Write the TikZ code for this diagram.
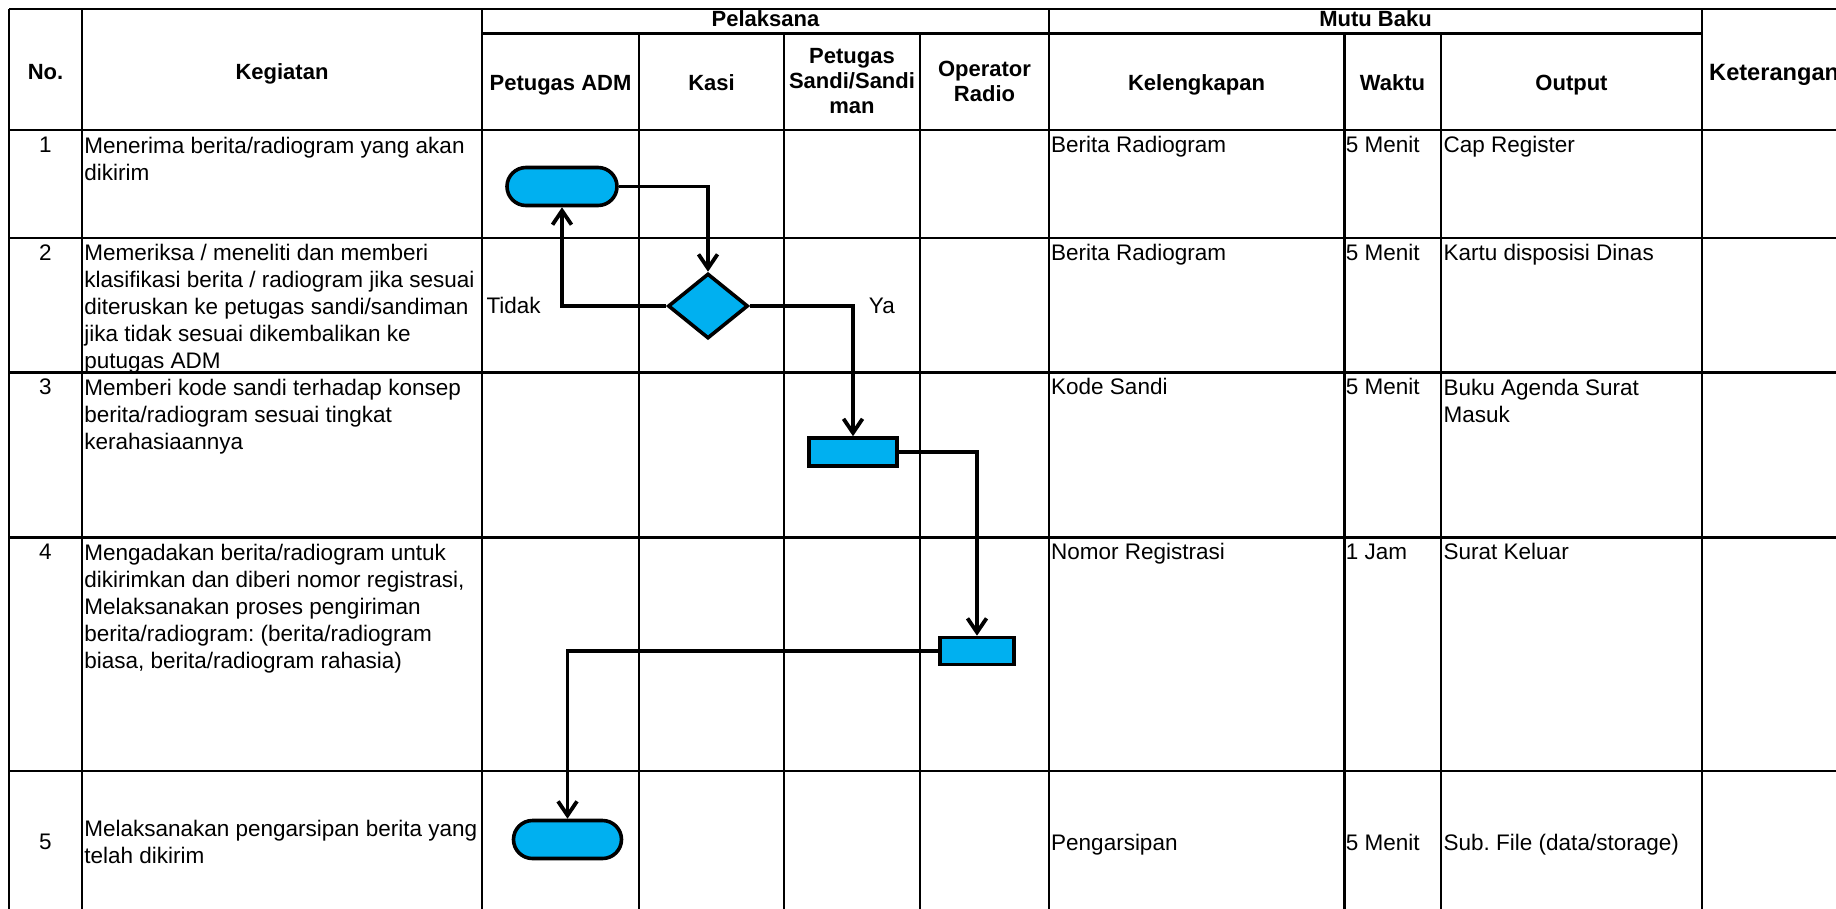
\documentclass[tikz,border=0pt]{standalone}
\usepackage{fontspec}
\setmainfont{Liberation Sans}
\usetikzlibrary{arrows.meta,shapes.geometric}
\definecolor{flowfill}{HTML}{00B0F0}
\frenchspacing
\begin{document}
\frenchspacing
\begin{tikzpicture}[x=1pt,y=-1pt,
  gridline/.style={line width=2.4pt},
  thinline/.style={line width=1.8pt},
  bodytext/.style={inner sep=0pt, font=\fontsize{22.5}{27}\selectfont\frenchspacing, align=left},
  headtext/.style={inner sep=0pt, font=\fontsize{22}{25}\selectfont\bfseries, align=center},
  termbox/.style={draw, line width=3.6pt, fill=flowfill, rounded corners=19pt, inner sep=0pt},
  procbox/.style={draw, line width=3.6pt, fill=flowfill, inner sep=0pt},
  decbox/.style={draw, diamond, line width=3.6pt, fill=flowfill, inner sep=0pt, minimum width=80pt, minimum height=65pt},
  flowline/.style={line width=3.8pt, -{Straight Barb[length=14pt,width=19pt,line width=3.8pt]}}
]
\useasboundingbox (0,0) rectangle (1836,908);
\fill[white] (0,0) rectangle (1836,908);

% ---------- table grid ----------
\draw[gridline] (9,9) -- (1845,9);
\draw[gridline] (482,33.5) -- (1702,33.5);
\draw[gridline] (9,130) -- (1845,130);
\draw[gridline] (9,237.7) -- (1845,237.7);
\draw[gridline] (9,372.3) -- (1845,372.3);
\draw[gridline] (9,537.3) -- (1845,537.3);
\draw[gridline] (9,771) -- (1845,771);
\draw[gridline] (9,912) -- (1845,912);
\draw[gridline] (9,9) -- (9,920);
\draw[gridline] (82,9) -- (82,920);
\draw[gridline] (482,9) -- (482,920);
\draw[thinline] (639,33.5) -- (639,920);
\draw[thinline] (784,33.5) -- (784,920);
\draw[thinline] (920,33.5) -- (920,920);
\draw[gridline] (1049,9) -- (1049,920);
\draw[gridline] (1344.5,33.5) -- (1344.5,920);
\draw[gridline] (1441,33.5) -- (1441,920);
\draw[gridline] (1702,9) -- (1702,920);

% ---------- header ----------
\node[headtext, anchor=base] (hno) at (45.5,79) {No.};
\node[headtext, anchor=base] (hkeg) at (282,79) {Kegiatan};
\node[headtext, anchor=base] (hpel) at (765.5,26.7) {Pelaksana};
\node[headtext, anchor=base] (hmutu) at (1375.5,26.7) {Mutu Baku};
\node[headtext, anchor=base] (hadm) at (560.5,90.5) {Petugas ADM};
\node[headtext, anchor=base] (hkasi) at (711.5,90.5) {Kasi};
\node[headtext, anchor=north] (hsandi) at (852,48.5) {Petugas\\Sandi/Sandi\\man};
\node[headtext, anchor=north] (hop) at (984.5,61) {Operator\\Radio};
\node[headtext, anchor=base] (hkel) at (1196.5,90.5) {Kelengkapan};
\node[headtext, anchor=base] (hwak) at (1392.5,90.5) {Waktu};
\node[headtext, anchor=base] (hout) at (1571.5,90.5) {Output};
\node[headtext, anchor=base west, font=\fontsize{23.6}{25}\selectfont\bfseries] (hket) at (1709,80) {Keterangan};

% ---------- row 1 ----------
\node[bodytext, anchor=base] (n1) at (45.5,152.5) {1};
\node[bodytext, anchor=north west] (k1) at (84.2,136.5) {Menerima berita/radiogram yang akan\\dikirim};
\node[bodytext, anchor=base west] (l1) at (1051,152.5) {Berita Radiogram};
\node[bodytext, anchor=base west] (w1) at (1345.7,152.5) {5 Menit};
\node[bodytext, anchor=base west] (o1) at (1443.5,152.5) {Cap Register};

% ---------- row 2 ----------
\node[bodytext, anchor=base] (n2) at (45.5,260.2) {2};
\node[bodytext, anchor=north west] (k2) at (84.2,244.2) {Memeriksa / meneliti dan memberi\\klasifikasi berita / radiogram jika sesuai\\diteruskan ke petugas sandi/sandiman\\jika tidak sesuai dikembalikan ke\\putugas ADM};
\node[bodytext, anchor=base west] (l2) at (1051,260.2) {Berita Radiogram};
\node[bodytext, anchor=base west] (w2) at (1345.7,260.2) {5 Menit};
\node[bodytext, anchor=base west] (o2) at (1443.5,260.2) {Kartu disposisi Dinas};

% ---------- row 3 ----------
\node[bodytext, anchor=base] (n3) at (45.5,394.8) {3};
\node[bodytext, anchor=north west] (k3) at (84.2,378.8) {Memberi kode sandi terhadap konsep\\berita/radiogram sesuai tingkat\\kerahasiaannya};
\node[bodytext, anchor=base west] (l3) at (1051,394.8) {Kode Sandi};
\node[bodytext, anchor=base west] (w3) at (1345.7,394.8) {5 Menit};
\node[bodytext, anchor=north west] (o3) at (1443.5,378.8) {Buku Agenda Surat\\Masuk};

% ---------- row 4 ----------
\node[bodytext, anchor=base] (n4) at (45.5,559.8) {4};
\node[bodytext, anchor=north west] (k4) at (84.2,543.8) {Mengadakan berita/radiogram untuk\\dikirimkan dan diberi nomor registrasi,\\Melaksanakan proses pengiriman\\berita/radiogram: (berita/radiogram\\biasa, berita/radiogram rahasia)};
\node[bodytext, anchor=base west] (l4) at (1051,559.8) {Nomor Registrasi};
\node[bodytext, anchor=base west] (w4) at (1345.7,559.8) {1 Jam};
\node[bodytext, anchor=base west] (o4) at (1443.5,559.8) {Surat Keluar};

% ---------- row 5 ----------
\node[bodytext, anchor=base] (n5) at (45.5,849.6) {5};
\node[bodytext, anchor=north west] (k5) at (84.2,820.2) {Melaksanakan pengarsipan berita yang\\telah dikirim};
\node[bodytext, anchor=base west] (l5) at (1051,850) {Pengarsipan};
\node[bodytext, anchor=base west] (w5) at (1345.7,850) {5 Menit};
\node[bodytext, anchor=base west] (o5) at (1443.5,850) {Sub. File (data/storage)};

% ---------- flowchart ----------
\node[termbox, minimum width=110pt, minimum height=38pt] (t1) at (562,186.5) {};
\node[decbox] (d2) at (708,306) {};
\node[procbox, minimum width=88pt, minimum height=28pt] (r3) at (853,452) {};
\node[procbox, minimum width=74pt, minimum height=27pt] (r4) at (977,651) {};
\node[termbox, minimum width=108pt, minimum height=38pt] (t5) at (567.5,839.5) {};

\draw[flowline] (t1.east) -| (d2.north);
\draw[flowline] (d2.west) -| (t1.south);
\draw[flowline] (d2.east) -| (r3.north);
\draw[flowline] (r3.east) -| (r4.north);
\draw[flowline] (r4.west) -| (t5.north);

\node[bodytext, anchor=base west] (ltidak) at (486.3,313) {Tidak};
\node[bodytext, anchor=base west] (lya) at (868.7,313) {Ya};
\end{tikzpicture}
\end{document}
